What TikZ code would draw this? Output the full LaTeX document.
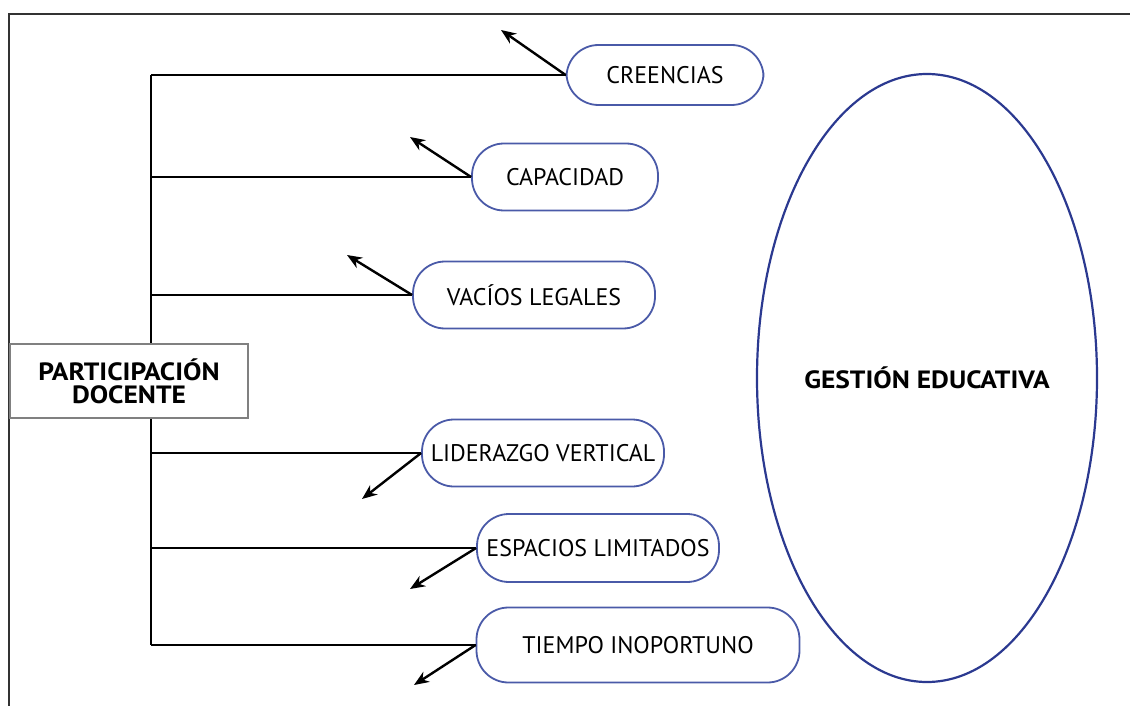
\documentclass[tikz,border=0pt]{standalone}
\usepackage{fontspec}
\setmainfont{PT Sans}
\newfontfamily\wideboldfont[FakeStretch=1.1]{PT Sans Bold}
\usetikzlibrary{shapes.geometric,arrows.meta}
\definecolor{boxblue}{HTML}{4A5AA8}
\definecolor{ovalblue}{HTML}{2B3990}
\definecolor{framegray}{HTML}{333333}

\tikzset{
    pill/.style={draw=boxblue, line width=0.9pt, fill=white, rounded corners=16pt,
                 inner sep=0pt, font=\fontsize{12}{13}\selectfont},
    mainbox/.style={draw=gray, line width=0.9pt, fill=white, inner sep=0pt,
                    minimum width=119pt, minimum height=37pt, align=center,
                    font=\fontsize{12.5}{11.5}\wideboldfont}
}

\begin{document}
\begin{tikzpicture}[x=0.5pt, y=-0.5pt, >={Stealth[length=7.5pt,width=6pt]}, line width=1pt]
\useasboundingbox (0,0) rectangle (1130,706);
\draw[framegray, line width=1.3pt] (9,706) -- (9,14) -- (1130,14);

        \coordinate (trunk) at (151,0);
        \coordinate (c1) at (501,30);
        \coordinate (c2) at (410,137);
        \coordinate (c3) at (347,255);
        \coordinate (c4) at (362,499);
        \coordinate (c5) at (410,589);
        \coordinate (c6) at (414,685);

\node[pill, minimum width=98.5pt, minimum height=30pt] (cre) at (665,75) {CREENCIAS};
\node[pill, minimum width=93pt, minimum height=33.5pt] (cap) at (565,177) {CAPACIDAD};
\node[pill, minimum width=121pt, minimum height=33.5pt] (vac) at (534,295) {VACÍOS LEGALES};
\node[pill, minimum width=121pt, minimum height=33.5pt] (lid) at (543,453) {LIDERAZGO VERTICAL};
\node[pill, minimum width=121pt, minimum height=34pt] (esp) at (598,548) {ESPACIOS LIMITADOS};
\node[pill, minimum width=161.5pt, minimum height=37.5pt] (tie) at (638,645) {TIEMPO INOPORTUNO};

% tree
\draw (cre.west -| trunk) -- (tie.west -| trunk);
\draw (cre.west -| trunk) -- (cre.west);
\draw (cap.west -| trunk) -- (cap.west);
\draw (vac.west -| trunk) -- (vac.west);
\draw (lid.west -| trunk) -- (lid.west);
\draw (esp.west -| trunk) -- (esp.west);
\draw (tie.west -| trunk) -- (tie.west);

\node[mainbox] (part) at (129,381) {PARTICIPACIÓN\\DOCENTE};

\draw[->, line width=1.2pt] (cre.west) -- (c1);
\draw[->, line width=1.2pt] (cap.west) -- (c2);
\draw[->, line width=1.2pt] (vac.west) -- (c3);
\draw[->, line width=1.2pt] (lid.west) -- (c4);
\draw[->, line width=1.2pt] (esp.west) -- (c5);
\draw[->, line width=1.2pt] (tie.west) -- (c6);

\node[ellipse, draw=ovalblue, line width=1.1pt, inner xsep=-5pt, inner ysep=0pt,
      minimum width=170pt, minimum height=304pt,
      font=\fontsize{12.5}{13}\wideboldfont] (ges) at (927,378) {GESTIÓN EDUCATIVA};
\end{tikzpicture}
\end{document}
